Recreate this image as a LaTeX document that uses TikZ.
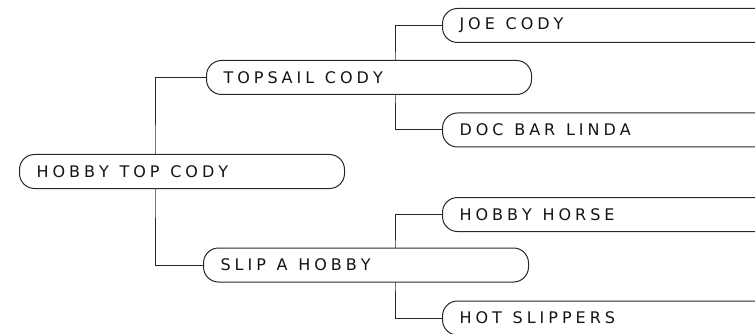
\documentclass[tikz,border=0pt]{standalone}
\usepackage{fontspec}
\usepackage{tikz}
\usetikzlibrary{positioning,backgrounds}
\newfontfamily\pillfont{DejaVu Sans}
\makeatletter
\newcommand\pillspread[1]{\pill@word#1 \@nil}
\def\pill@word#1 #2\@nil{\pill@letter#1\relax
  \ifx\relax#2\relax\else\hspace{.42em}\pill@word#2\@nil\fi}
\def\pill@letter#1{\ifx#1\relax\else#1\kern.25em\expandafter\pill@letter\fi}
\makeatother
\definecolor{pedline}{RGB}{40,40,40}
\definecolor{pedtext}{RGB}{20,20,20}

\begin{document}
\begin{tikzpicture}[x=1pt, y=-1pt,
  horse/.style={draw=pedline, fill=white, rounded corners=15pt, anchor=west,
    minimum height=34pt, text width=291pt, inner xsep=17pt, align=left,
    text=pedtext, font=\pillfont\fontsize{16}{18}\selectfont, line width=1pt},
  link/.style={draw=pedline, line width=1pt}]
\clip (0,0) rectangle (755,334);
% Subject
\node[horse] (root) at (19,171.5) {\pillspread{HOBBY TOP CODY}};
% Sire and dam
\node[horse] (sire) at (206,77.5) {\pillspread{TOPSAIL CODY}};
\node[horse] (dam) at (203,265) {\pillspread{SLIP A HOBBY}};
% Grandparents
\node[horse, text width=300pt] (ss) at (442,25.5) {\pillspread{JOE CODY}};
\node[horse, text width=300pt] (sd) at (442,130) {\pillspread{DOC BAR LINDA}};
\node[horse, text width=300pt] (ds) at (442,214.5) {\pillspread{HOBBY HORSE}};
\node[horse, text width=300pt] (dd) at (442,318) {\pillspread{HOT SLIPPERS}};
% Branch points
\coordinate (rootfork) at (155,171.5);
\coordinate (sirefork) at (395,77.5);
\coordinate (damfork) at (395,265);
\begin{scope}[on background layer]
\draw[link] (sire.west) -| (rootfork) |- (dam.west);
\draw[link] (ss.west) -| (sirefork) |- (sd.west);
\draw[link] (ds.west) -| (damfork) |- (dd.west);
\end{scope}
\end{tikzpicture}
\end{document}
